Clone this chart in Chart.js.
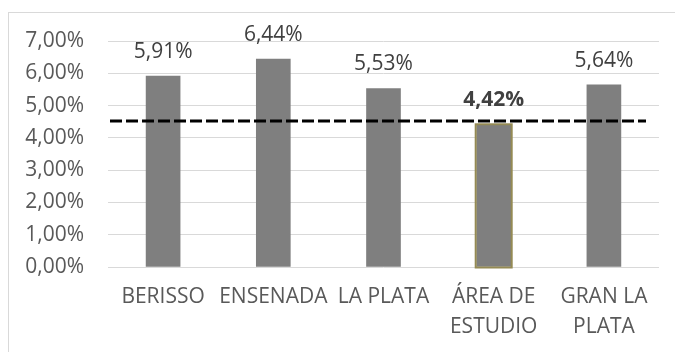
<!DOCTYPE html>
<html>
<head>
<meta charset="utf-8">
<script src="https://cdn.jsdelivr.net/npm/chart.js@4/dist/chart.umd.min.js"></script>
<style>
  html, body { margin: 0; padding: 0; background: #fff; }
  #wrap { width: 675px; height: 352px; position: relative; }
</style>
</head>
<body>
<div id="wrap"><canvas id="chart"></canvas></div>
<script>
const CATEGORIES = ["BERISSO", "ENSENADA", "LA PLATA", ["ÁREA DE", "ESTUDIO"], ["GRAN LA", "PLATA"]];
const VALUES = [5.91, 6.44, 5.53, 4.42, 5.64];
const HIGHLIGHT = 3;           // index of the bar with the olive outline
const AVERAGE = 4.52;          // dashed reference line
const Y_TICKS = [0, 1, 2, 3, 4, 5, 6, 7];

const FONT = "'Open Sans', sans-serif";
const fmt = (v)=> v.toFixed(2).replace(".", ",") + "%";

////////////////////////////////////////////////////////////////////////////////
// plugins
////////////////////////////////////////////////////////////////////////////////
const frame = {
    id: "frame",
    beforeDraw(chart){
        const ctx = chart.ctx;
        ctx.save();
        ctx.strokeStyle = "#d9d9d9";
        ctx.lineWidth = 1;
        ctx.strokeRect(8.5, 12.5, chart.width + 20, chart.height + 20);
        ctx.restore();
    }
};

// olive outline drawn around the highlighted bar (outside the fill)
const outline = {
    id: "outline",
    afterDatasetsDraw(chart){
        const ctx = chart.ctx;
        const bar = chart.getDatasetMeta(0).data[HIGHLIGHT];
        const half = bar.width / 2 + 1;
        ctx.save();
        ctx.strokeStyle = "#948a54";
        ctx.lineWidth = 2;
        ctx.strokeRect(bar.x - half, bar.y, half * 2, bar.base - bar.y + 1);
        ctx.restore();
    }
};

const avgLine = {
    id: "avgLine",
    afterDatasetsDraw(chart){
        const ctx = chart.ctx;
        const area = chart.chartArea;
        const y = chart.scales.y.getPixelForValue(AVERAGE);
        ctx.save();
        ctx.strokeStyle = "#000";
        ctx.lineWidth = 3;
        ctx.setLineDash([12, 4]);
        ctx.beginPath();
        ctx.moveTo(area.left + 2, y);
        ctx.lineTo(area.right - 13, y);
        ctx.stroke();
        ctx.restore();
    }
};

const valueLabels = {
    id: "valueLabels",
    afterDatasetsDraw(chart){
        const ctx = chart.ctx;
        const meta = chart.getDatasetMeta(0);
        ctx.save();
        ctx.fillStyle = "#404040";
        ctx.textAlign = "center";
        ctx.textBaseline = "middle";
        meta.data.forEach((bar, i)=>{
            ctx.font = (i === HIGHLIGHT ? "bold " : "") + "21px " + FONT;
            ctx.fillText(fmt(VALUES[i]), bar.x, bar.y - 24);
        });
        ctx.restore();
    }
};

////////////////////////////////////////////////////////////////////////////////
// chart
////////////////////////////////////////////////////////////////////////////////
const createChart = ()=>{
    const canvas = document.querySelector("#chart");
    return new Chart(canvas, {
        type: "bar",
        data: {
            labels: CATEGORIES,
            datasets: [{
                data: VALUES,
                backgroundColor: "#7f7f7f",
                borderWidth: 0,
                barThickness: 34,
            }],
        },
        options: {
            responsive: true,
            maintainAspectRatio: false,
            animation: false,
            layout: { padding: { left: 0, top: 41, right: 16, bottom: 0 } },
            plugins: { legend: { display: false }, tooltip: { enabled: false } },
            scales: {
                x: {
                    grid: { display: false, drawTicks: false },
                    border: { display: false },
                    ticks: {
                        color: "#595959",
                        font: { family: FONT, size: 21, lineHeight: 1.43 },
                        padding: 15,
                        maxRotation: 0,
                        autoSkip: false,
                    },
                    afterFit(scale){ scale.height = 85; },
                },
                y: {
                    min: 0,
                    max: 7,
                    afterBuildTicks(scale){ scale.ticks = Y_TICKS.map(v=>({ value: v })); },
                    grid: { color: "#d9d9d9", lineWidth: 1, drawTicks: false },
                    border: { display: false },
                    ticks: {
                        color: "#595959",
                        font: { family: FONT, size: 21 },
                        padding: 24,
                        callback: (v)=> fmt(v),
                    },
                    afterFit(scale){ scale.width = 108; },
                },
            },
        },
        plugins: [frame, outline, avgLine, valueLabels],
    });
};

createChart();
</script>
</body>
</html>
